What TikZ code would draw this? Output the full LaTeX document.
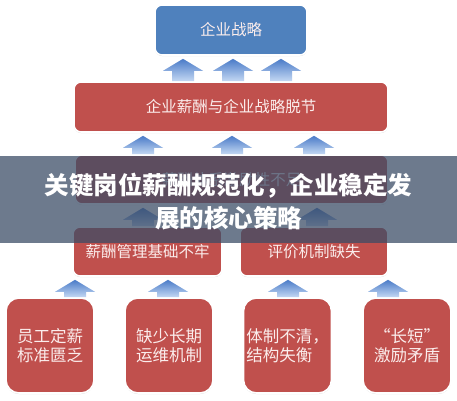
\documentclass[tikz,border=0pt]{standalone}
\usepackage{fontspec}
\newfontfamily\cjk{Noto Sans CJK SC}
\usetikzlibrary{shadows,calc}
\definecolor{boxred}{HTML}{C0504D}
\definecolor{boxblue}{HTML}{4F81BD}
\definecolor{arrtop}{HTML}{4A7BC8}
\definecolor{arrbot}{HTML}{C4D8F3}
\definecolor{bannerc}{HTML}{3B4C66}
\definecolor{boxtext}{HTML}{FBEDEC}
\tikzset{
  card/.style={draw=white, line width=1.6pt, rounded corners=7pt, fill=boxred,
    text=boxtext, font=\cjk\fontsize{15.5}{18}\selectfont,
    drop shadow={shadow xshift=0pt, shadow yshift=-1pt, opacity=0.3, fill=gray},
    inner sep=0pt, align=center},
  bluecard/.style={card, fill=boxblue},
  tallcard/.style={card, rounded corners=13pt, font=\cjk\fontsize{16.5}{19}\selectfont,
    minimum width=88pt, minimum height=95pt},
  arrowshade/.style={top color=arrtop, bottom color=arrbot, draw=none},
}
% #1 = x (pt), #2 = lower node, #3 = upper node
\newcommand\blockarr[3]{%
  \shade[arrowshade] let \p1=(#2.north), \p2=(#3.south) in
    ({#1pt-11pt},\y1) -- ({#1pt-11pt},{\y2-15pt}) -- ({#1pt-20pt},{\y2-15pt})
    -- ({#1pt},{\y2-3pt}) -- ({#1pt+20pt},{\y2-15pt}) -- ({#1pt+11pt},{\y2-15pt})
    -- ({#1pt+11pt},\y1) -- cycle;}
\begin{document}
\begin{tikzpicture}[x=1pt,y=-1pt]
\useasboundingbox (0,0) rectangle (457,400);
\fill[white] (0,0) rectangle (457,400);

\node[bluecard, minimum width=152pt, minimum height=50pt] (top) at (231,30) {企业战略};
\node[card, minimum width=314pt, minimum height=50pt] (mid) at (231,107) {企业薪酬与企业战略脱节};
\node[card, minimum width=313pt, minimum height=49pt] (third) at (231.5,179.5) {薪酬体系激励性不足};
\node[card, minimum width=149pt, minimum height=49pt] (fl) at (147.5,251.5) {薪酬管理基础不牢};
\node[card, minimum width=148pt, minimum height=49pt] (fr) at (314,251.5) {评价机制缺失};

\node[tallcard] (b1) at (50,345.5) {员工定薪\\标准匮乏};
\node[tallcard] (b2) at (169,345.5) {缺少长期\\运维机制};
\node[tallcard, align=left] (b3) at (287.5,345.5) {体制不清，\\结构失衡};
\node[tallcard] (b4) at (407,345.5) {“长短”\\激励矛盾};

\blockarr{183}{mid}{top}
\blockarr{233}{mid}{top}
\blockarr{281}{mid}{top}
\blockarr{143}{third}{mid}
\blockarr{232}{third}{mid}
\blockarr{314}{third}{mid}
\blockarr{143}{fl}{third}
\blockarr{317}{fr}{third}
\blockarr{75}{b1}{fl}
\blockarr{168}{b2}{fl}
\blockarr{288}{b3}{fr}
\blockarr{388}{b4}{fr}

\fill[bannerc, opacity=0.74] (0,156) rectangle (457,243);
\node[font=\cjk\bfseries\fontsize{24.5}{33}\selectfont, text=white, align=center, inner sep=0pt]
  (banner) at (228.5,201.5) {关键岗位薪酬规范化，企业稳定发\\展的核心策略};
\end{tikzpicture}
\end{document}
